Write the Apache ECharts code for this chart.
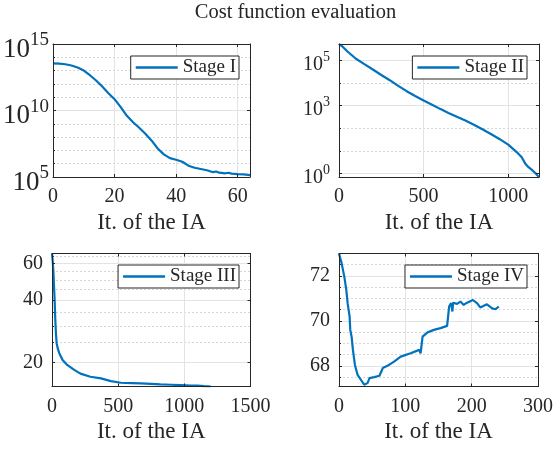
<!DOCTYPE html>
<html><head><meta charset="utf-8">
<script src="https://cdn.jsdelivr.net/npm/echarts@6/dist/echarts.min.js"></script>
<style>html,body{margin:0;padding:0;background:#fff}#c{width:556px;height:451px}</style>
</head><body><div id="c"></div>
<script>
const FONT = "'Liberation Serif', 'Times New Roman', serif";
const TXT = '#262626';
const BLUE = '#0072BD';

const titleText = 'Cost function evaluation';
const xName = 'It. of the IA';

// Stage I
const itI = [0,2,4,6,8,10,12,14,16,18,20,22,24,26,28,30,32,34,36,38,40,42,44,46,48,50,52,53,54,56,57,58,60,62,64];
const costI = [3.5e13,3.3e13,3.0e13,2.4e13,1.7e13,1.0e13,4.5e12,1.8e12,6.3e11,2.0e11,7.1e10,1.8e10,4.0e9,1.3e9,5.0e8,1.8e8,5.6e7,1.4e7,5.0e6,2.6e6,2.0e6,1.4e6,7.1e5,5.0e5,4.0e5,3.2e5,2.3e5,2.6e5,2.1e5,1.9e5,2.1e5,1.8e5,1.66e5,1.55e5,1.4e5];
const xTicksI = [0,20,40,60];
const yTicksI = [1e5,1e10,1e15];
const yMinorI = [1e6,1e7,1e8,1e9,1e11,1e12,1e13,1e14];

// Stage II
const itII = [0,20,50,100,150,200,250,300,350,400,450,500,550,600,650,700,750,800,850,900,950,1000,1050,1080,1100,1120,1140,1160,1180];
const costII = [5.37e5,4.2e5,2.51e5,1.2e5,6.9e4,4.0e4,2.29e4,1.35e4,7.6e3,4.4e3,2.7e3,1.7e3,1.1e3,708,468,316,214,141,89,55,33,19,8.9,5.2,2.8,1.9,1.45,1.05,0.71];
const xTicksII = [0,500,1000];
const yTicksII = [1,1e3,1e5];
const yMinorII = [10,100,1e4];

// Stage III
const itIII = [0,5,10,15,20,25,30,35,45,55,80,115,165,215,290,370,445,520,600,670,750,820,900,975,1050,1100,1150,1200];
const costIII = [67,62,55.8,47,40,32,27.5,24.8,23.2,22.2,20.6,19.5,18.5,17.7,17.1,16.8,16.3,16.0,15.95,15.9,15.8,15.7,15.65,15.6,15.52,15.5,15.42,15.35];
const xTicksIII = [0,500,1000,1500];
const yTicksIII = [20,40,60];
const yMinorIII = [25,30,35,45,50,55,65];

// Stage IV
const itIV = [0,4,8,11,13,16,17,19,21,24,28,33,38,41,43,46,53,61,63,66,73,83,93,108,121,123,126,133,143,153,163,165,166,169,171,172,178,183,188,193,202,208,213,223,231,236,241];
const costIV = [73.0,72.56,71.97,71.38,70.79,70.19,69.6,69.3,68.71,68.04,67.6,67.38,67.16,67.08,67.23,67.45,67.5,67.56,67.6,67.9,68.0,68.19,68.41,68.56,68.71,68.56,69.3,69.48,69.6,69.68,69.78,69.82,70.64,70.79,70.42,70.81,70.76,70.86,70.71,70.81,70.93,70.79,70.6,70.74,70.56,70.52,70.64];
const xTicksIV = [0,100,200,300];
const yTicksIV = [68,70,72];
const yMinorIV = [67.5,68.5,69,69.5,70.5,71,71.5,72.5];

const panels = [
  {name:'Stage I', it:itI, cost:costI, xMin:0, xMax:64, xTicks:xTicksI, yType:'log', yMin:1e5, yMax:1e15, yTicks:yTicksI, yMinor:yMinorI,
   grid:{left:52, top:44, width:198, height:133}, legendRight:317, legendTop:56, sup:{b:27, s:19, margin:4}},
  {name:'Stage II', it:itII, cost:costII, xMin:0, xMax:1182, xTicks:xTicksII, yType:'log', yMin:0.7, yMax:5.4e5, yTicks:yTicksII, yMinor:yMinorII,
   grid:{left:339, top:44, width:200, height:133}, legendRight:29, legendTop:56, sup:{b:20, s:14, margin:9}},
  {name:'Stage III', it:itIII, cost:costIII, xMin:0, xMax:1500, xTicks:xTicksIII, yType:'log', yMin:15.35, yMax:67, yTicks:yTicksIII, yMinor:yMinorIII,
   grid:{left:52, top:253.5, width:198.5, height:133}, legendRight:317, legendTop:265, sup:null},
  {name:'Stage IV', it:itIV, cost:costIV, xMin:0, xMax:300, xTicks:xTicksIV, yType:'value', yMin:67.08, yMax:73.0, yTicks:yTicksIV, yMinor:yMinorIV,
   grid:{left:339, top:253.5, width:200, height:133}, legendRight:29, legendTop:265, sup:null}
];

const grids = [], xAxes = [], yAxes = [], series = [], legends = [];
const lineC = {color: TXT, width: 1};
const tickRich = {t:{fontFamily:FONT, fontSize:20, color:TXT, lineHeight:22}};
const plain = v => '{t|' + v + '}';
// log-axis extents are rebuilt through pow(); widen a hair so the end ticks survive rounding
const pad = (type, v, dir) => type === 'log' ? v * (1 + dir * 1e-9) : v;

panels.forEach((p, gi) => {
  const yMin = pad(p.yType, p.yMin, -1), yMax = pad(p.yType, p.yMax, 1);
  grids.push(Object.assign({containLabel:false}, p.grid));
  xAxes.push({gridIndex:gi, type:'value', min:p.xMin, max:p.xMax, position:'bottom', z:0,
    axisLine:{show:false, onZero:false}, axisTick:{show:false, customValues:p.xTicks}, axisLabel:{show:false, customValues:p.xTicks},
    splitLine:{show:true, lineStyle:{color:'#e3e3e3', width:1}}});
  const xLabelIdx = xAxes.length;
  xAxes.push({gridIndex:gi, type:'value', min:p.xMin, max:p.xMax, position:'bottom', z:3,
    axisLine:{show:true, onZero:false, lineStyle:lineC},
    axisTick:{show:true, inside:true, length:3, customValues:p.xTicks, lineStyle:lineC},
    axisLabel:{customValues:p.xTicks, formatter:plain, rich:tickRich, fontFamily:FONT, fontSize:20, color:TXT, margin:9},
    splitLine:{show:false},
    name:xName, nameLocation:'middle', nameGap:34, nameTextStyle:{fontFamily:FONT, fontSize:23, color:TXT}});
  xAxes.push({gridIndex:gi, type:'value', min:p.xMin, max:p.xMax, position:'top', z:3,
    axisLine:{show:true, onZero:false, lineStyle:lineC},
    axisTick:{show:true, inside:true, length:3, customValues:p.xTicks, lineStyle:lineC},
    axisLabel:{show:false}, splitLine:{show:false}});

  yAxes.push({gridIndex:gi, type:p.yType, min:yMin, max:yMax, position:'left', z:0,
    axisLine:{show:false, onZero:false}, axisTick:{show:true, inside:true, length:2, customValues:p.yMinor, lineStyle:lineC},
    axisLabel:{show:false, customValues:p.yMinor},
    splitLine:{show:true, lineStyle:{color:'#d6d6d6', width:1, type:[2,2]}}});
  yAxes.push({gridIndex:gi, type:p.yType, min:yMin, max:yMax, position:'left', z:0,
    axisLine:{show:false, onZero:false}, axisTick:{show:false, customValues:p.yTicks},
    axisLabel:{show:false, customValues:p.yTicks},
    splitLine:{show:true, lineStyle:{color:'#e3e3e3', width:1}}});
  const yLabelIdx = yAxes.length;
  let label;
  if (p.sup) {
    const s = p.sup;
    label = {customValues:p.yTicks, margin:s.margin, fontFamily:FONT, color:TXT, showMinLabel:true, showMaxLabel:true, hideOverlap:false,
      formatter: v => '{b|10}{s|' + Math.round(Math.log10(v)) + '}',
      rich:{
        b:{fontFamily:FONT, fontSize:s.b, color:TXT, lineHeight:Math.round(s.b*1.4), verticalAlign:'bottom'},
        s:{fontFamily:FONT, fontSize:s.s, color:TXT, lineHeight:s.s, verticalAlign:'top', padding:[Math.round(s.s*0.3),0,0,0]}
      }};
  } else {
    label = {customValues:p.yTicks, formatter:plain, rich:tickRich, margin:9, fontFamily:FONT, fontSize:20, color:TXT};
  }
  yAxes.push({gridIndex:gi, type:p.yType, min:yMin, max:yMax, position:'left', z:3,
    axisLine:{show:true, onZero:false, lineStyle:lineC},
    axisTick:{show:true, inside:true, length:3, customValues:p.yTicks, lineStyle:lineC},
    axisLabel:label, splitLine:{show:false}});
  yAxes.push({gridIndex:gi, type:p.yType, min:yMin, max:yMax, position:'right', z:3,
    axisLine:{show:true, onZero:false, lineStyle:lineC},
    axisTick:{show:true, inside:true, length:3, customValues:p.yTicks, lineStyle:lineC},
    axisLabel:{show:false}, splitLine:{show:false}});

  series.push({type:'line', name:p.name, xAxisIndex:xLabelIdx, yAxisIndex:yLabelIdx,
    data:p.it.map((x,i)=>[x, p.cost[i]]), symbol:'none', showSymbol:false, z:2,
    lineStyle:{color:BLUE, width:2.2}, itemStyle:{color:BLUE}, clip:true});

  legends.push({data:[{name:p.name, icon:'rect'}], right:p.legendRight, top:p.legendTop, orient:'horizontal',
    itemWidth:42, itemHeight:2.6, padding:[2,3,2,5], borderColor:TXT, borderWidth:1, backgroundColor:'#fff',
    selectedMode:false, itemStyle:{color:BLUE},
    formatter: n => '{t|' + n + '}',
    textStyle:{fontFamily:FONT, fontSize:19, color:TXT, rich:{t:{fontFamily:FONT, fontSize:19, color:TXT, lineHeight:21}}}, z:5});
});

const chart = echarts.init(document.getElementById('c'), null, {renderer:'canvas'});
chart.setOption({
  animation:false,
  backgroundColor:'#fff',
  textStyle:{fontFamily:FONT},
  grid:grids, xAxis:xAxes, yAxis:yAxes, series:series, legend:legends,
  graphic:[{type:'text', x:295.5, y:13, style:{text:titleText, fontFamily:FONT, fontSize:20.5, fill:TXT, textAlign:'center', textVerticalAlign:'middle'}}]
});
</script></body></html>
